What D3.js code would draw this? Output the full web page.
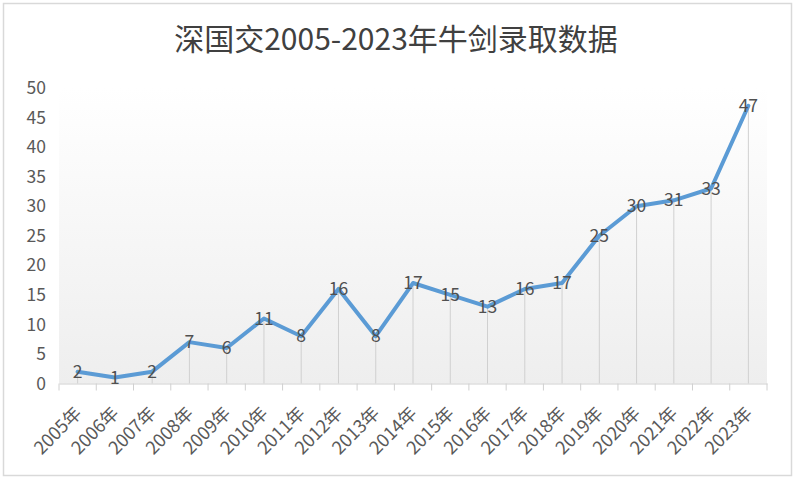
<!DOCTYPE html>
<html><head><meta charset="utf-8">
<script src="https://cdn.jsdelivr.net/npm/d3@7"></script>
<style>body{margin:0;background:#fff}svg{display:block}</style>
</head><body>
<script>
const title = "深国交2005-2023年牛剑录取数据";
const categories = ["2005年","2006年","2007年","2008年","2009年","2010年","2011年","2012年","2013年","2014年","2015年","2016年","2017年","2018年","2019年","2020年","2021年","2022年","2023年"];
const values = [2,1,2,7,6,11,8,16,8,17,15,13,16,17,25,30,31,33,47];
const yTicks = [0,5,10,15,20,25,30,35,40,45,50];

(function () {
const W = 800, H = 482;
const fontFam = "'Noto Sans CJK SC','Noto Sans',sans-serif";
const svg = d3.select("body").append("svg").attr("width", W).attr("height", H);

// outer border
svg.append("rect").attr("x", 3.5).attr("y", 3.5).attr("width", 788).attr("height", 472)
  .attr("fill", "#fff").attr("stroke", "#d9d9d9").attr("stroke-width", 1.5);

const pl = 59, pr = 767, pt = 88, pb = 383.5;
const x = d3.scaleBand().domain(categories).range([pl, pr]);
const y = d3.scaleLinear().domain([0, 50]).range([pb, pt]);

const defs = svg.append("defs");
const grad = defs.append("linearGradient").attr("id", "bg").attr("x1", 0).attr("y1", 1).attr("x2", 0).attr("y2", 0);
grad.append("stop").attr("offset", "0%").attr("stop-color", "#eeeeee");
grad.append("stop").attr("offset", "100%").attr("stop-color", "#ffffff");
svg.append("rect").attr("x", pl).attr("y", pt).attr("width", pr - pl).attr("height", pb - pt)
  .attr("fill", "url(#bg)");

// title
svg.append("text").attr("x", 396).attr("y", 50).attr("text-anchor", "middle")
  .attr("font-family", fontFam).attr("font-size", 30).attr("fill", "#404040").text(title);

// y axis labels
svg.append("g").selectAll("text").data(yTicks).join("text")
  .attr("x", 46).attr("y", d => y(d)).attr("dy", "0.35em").attr("text-anchor", "end")
  .attr("font-family", fontFam).attr("font-size", 17.5).attr("fill", "#595959").text(d => d);

// drop lines
svg.append("g").selectAll("line").data(values).join("line")
  .attr("x1", (d, i) => x(categories[i]) + x.bandwidth() / 2)
  .attr("x2", (d, i) => x(categories[i]) + x.bandwidth() / 2)
  .attr("y1", d => y(d)).attr("y2", y(0))
  .attr("stroke", "#d0d0d0").attr("stroke-width", 1);

// x axis
const xAxis = d3.axisBottom(x).tickSize(0).tickFormat("");
const gx = svg.append("g").attr("transform", `translate(0,${pb})`).call(xAxis);
gx.select(".domain").attr("stroke", "#d0d0d0");
gx.selectAll(".tick").remove();
const bounds = categories.map(c => x(c)).concat([pr]);
gx.selectAll("line.tk").data(bounds).join("line").attr("class", "tk")
  .attr("x1", d => d).attr("x2", d => d).attr("y1", 0).attr("y2", 7)
  .attr("stroke", "#d0d0d0");

// x labels
svg.append("g").selectAll("text").data(categories).join("text")
  .attr("transform", d => `translate(${x(d) + x.bandwidth() / 2 + 5},${pb + 31}) rotate(-45)`)
  .attr("text-anchor", "end").attr("font-family", fontFam).attr("font-size", 18)
  .attr("fill", "#595959").text(d => d);

// line
const line = d3.line().x((d, i) => x(categories[i]) + x.bandwidth() / 2).y(d => y(d));
svg.append("path").datum(values).attr("d", line).attr("fill", "none")
  .attr("stroke", "#5b9bd5").attr("stroke-width", 4).attr("stroke-linejoin", "round").attr("stroke-linecap", "round");

// data labels
svg.append("g").selectAll("text").data(values).join("text")
  .attr("x", (d, i) => x(categories[i]) + x.bandwidth() / 2).attr("y", d => y(d)).attr("dy", "0.35em")
  .attr("text-anchor", "middle").attr("font-family", fontFam).attr("font-size", 17.5)
  .attr("fill", "#505050").text(d => d);
})();
</script>
</body></html>
